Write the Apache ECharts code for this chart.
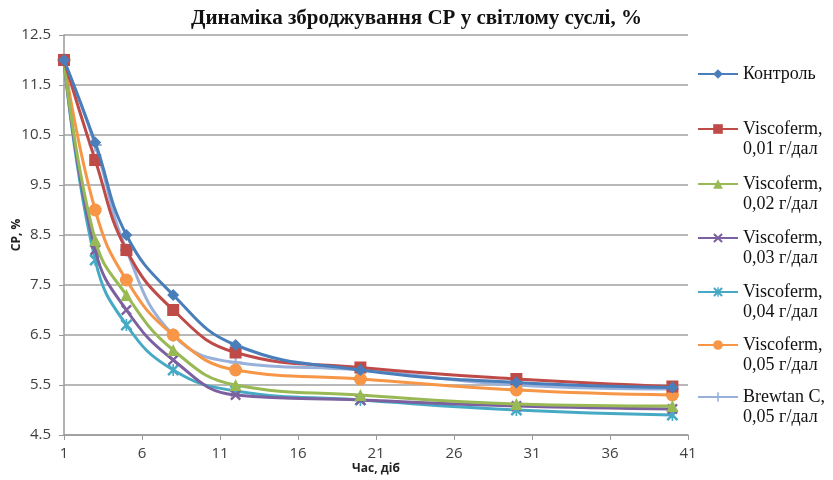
<!DOCTYPE html>
<html><head><meta charset="utf-8">
<script src="https://cdn.jsdelivr.net/npm/echarts@6/dist/echarts.min.js"></script>
<style>html,body{margin:0;padding:0;background:#fff}#c{width:833px;height:480px}</style>
</head><body><div id="c"></div>
<script>
const days = [1, 3, 5, 8, 12, 20, 30, 40];
const kontrol = [12, 10.35, 8.5, 7.3, 6.3, 5.8, 5.55, 5.45];
const visc001 = [12, 10.0, 8.2, 7.0, 6.15, 5.85, 5.62, 5.47];
const visc002 = [12, 8.4, 7.3, 6.2, 5.5, 5.3, 5.12, 5.08];
const visc003 = [12, 8.2, 7.0, 6.0, 5.3, 5.2, 5.08, 5.02];
const visc004 = [12, 8.0, 6.7, 5.8, 5.38, 5.2, 5.0, 4.9];
const visc005 = [12, 9.0, 7.6, 6.5, 5.8, 5.62, 5.4, 5.3];
const brewtan = [12, 10.3, 8.2, 6.5, 5.95, 5.8, 5.5, 5.42];
const seriesNames = ['Контроль', 'Viscoferm,\n0,01 г/дал', 'Viscoferm,\n0,02 г/дал', 'Viscoferm,\n0,03 г/дал', 'Viscoferm,\n0,04 г/дал', 'Viscoferm,\n0,05 г/дал', 'Brewtan C,\n0,05 г/дал'];
const xTicks = [1, 6, 11, 16, 21, 26, 31, 36, 41];
const yTicks = [4.5, 5.5, 6.5, 7.5, 8.5, 9.5, 10.5, 11.5, 12.5];
const titleText = 'Динаміка зброджування СР у світлому суслі, %';
const xName = 'Час, діб';
const yName = 'СР, %';

const values = [kontrol, visc001, visc002, visc003, visc004, visc005, brewtan];
const colors = ['#4A7EBB', '#BE4B48', '#98B954', '#7D60A0', '#46AAC5', '#F79646', '#98B0DA'];
const xPath = 'path://M0,1.5 L1.5,0 L5,3.5 L8.5,0 L10,1.5 L6.5,5 L10,8.5 L8.5,10 L5,6.5 L1.5,10 L0,8.5 L3.5,5 Z';
const astPath = 'path://M0,1.5 L1.5,0 L5,3.5 L8.5,0 L10,1.5 L6.5,5 L10,8.5 L8.5,10 L5,6.5 L1.5,10 L0,8.5 L3.5,5 Z M4.3,0 L5.7,0 L5.7,10 L4.3,10 Z';
const plusPath = 'path://M4.2,0 L5.8,0 L5.8,4.2 L10,4.2 L10,5.8 L5.8,5.8 L5.8,10 L4.2,10 L4.2,5.8 L0,5.8 L0,4.2 L4.2,4.2 Z';
const symbols = ['diamond', 'rect', 'triangle', xPath, astPath, 'circle', plusPath];
const symSizes = [12, 12, 12, 11, 12, 13, 13];

const legendIconY = [74, 129, 184, 238, 292, 345, 397];
const legends = seriesNames.map((n, i) => ({
  data: [n],
  orient: 'vertical',
  left: 692,
  top: legendIconY[i] - (i === 0 ? 15 : 35),
  itemWidth: 40,
  itemHeight: 12,
  itemGap: 0,
  formatter: name => (name.indexOf('\n') >= 0 ? '\n' + name : name),
  textStyle: { fontFamily: 'Liberation Serif', fontSize: 18, color: '#111', lineHeight: 20 }
}));

const series = values.map((v, i) => ({
  name: seriesNames[i],
  type: 'line',
  smooth: 0.45,
  data: days.map((d, j) => [d, v[j]]),
  symbol: symbols[i],
  symbolSize: symSizes[i],
  showAllSymbol: true,
  lineStyle: { width: 3, color: colors[i] },
  itemStyle: { color: colors[i] },
  z: 10 - i
}));

const chart = echarts.init(document.getElementById('c'), null, { renderer: 'canvas' });
chart.setOption({
  animation: false,
  backgroundColor: '#fff',
  title: {
    text: titleText, left: 'center', top: 3,
    textStyle: { fontFamily: 'Liberation Serif', fontWeight: 'bold', fontSize: 21, color: '#111' }
  },
  legend: legends,
  grid: { left: 64, right: 145, top: 35, bottom: 45, containLabel: false, outerBoundsMode: 'none' },
  xAxis: {
    type: 'value', min: xTicks[0], max: xTicks[xTicks.length - 1], interval: 5,
    name: xName, nameLocation: 'middle', nameGap: 28, nameMoveOverlap: false,
    nameTextStyle: { fontFamily: 'Open Sans', fontWeight: 'bold', fontSize: 12, color: '#222' },
    axisLine: { lineStyle: { color: '#9a9a9a', width: 1.5 } },
    axisTick: { show: true, length: 5, lineStyle: { color: '#9a9a9a' } },
    splitLine: { show: false },
    axisLabel: { fontFamily: 'Open Sans', fontSize: 15, color: '#404040', margin: 11 }
  },
  yAxis: {
    type: 'value', min: yTicks[0], max: yTicks[yTicks.length - 1], interval: 1,
    name: yName, nameLocation: 'middle', nameGap: 41, nameRotate: 90, nameMoveOverlap: false,
    nameTextStyle: { fontFamily: 'Open Sans', fontWeight: 'bold', fontSize: 12, color: '#222' },
    axisLine: { show: true, lineStyle: { color: '#9a9a9a', width: 1.5 } },
    axisTick: { show: true, length: 5, lineStyle: { color: '#9a9a9a' } },
    splitLine: { show: true, lineStyle: { color: '#a0a0a0', width: 1.5 } },
    axisLabel: { fontFamily: 'Open Sans', fontSize: 15, color: '#404040', margin: 13,
      formatter: v => v.toFixed(1) }
  },
  series: series
});
</script></body></html>
